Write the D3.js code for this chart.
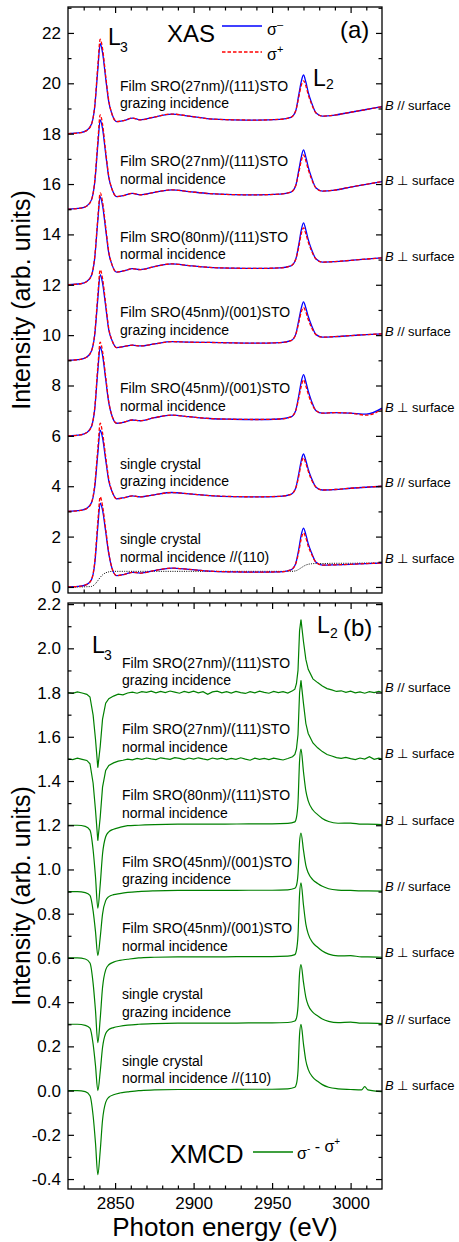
<!DOCTYPE html>
<html>
<head>
<meta charset="utf-8">
<script src="https://cdn.jsdelivr.net/npm/d3@7"></script>
<style>
body { margin: 0; background: #fff; }
svg { font-family: "Liberation Sans", Arial, sans-serif; }
</style>
</head>
<body>
<svg id="chart" width="459" height="1242"></svg>
<script>
/* global d3 */

// ---- data: XAS panel (a) ----
var xasEnergy = [2820, 2828, 2832, 2835, 2837, 2839, 2840.5, 2842, 2844, 2846, 2848, 2851, 2856, 2861, 2866, 2875, 2886, 2897, 2910, 2925, 2940, 2955, 2962, 2965, 2967, 2968.5, 2970, 2971.5, 2973, 2975, 2978, 2982, 2990, 3000, 3010, 3020]

var sigmaMinus = [
  [18.00, 18.04, 18.13, 18.38, 19.05, 20.55, 21.57, 21.22, 20.2, 19.25, 18.78, 18.48, 18.53, 18.62, 18.55, 18.66, 18.78, 18.7, 18.59, 18.55, 18.54, 18.57, 18.65, 18.9, 19.55, 20.05, 20.33, 20.05, 19.65, 19.25, 18.82, 18.7, 18.74, 18.85, 18.96, 19.07],
  [15.00, 15.04, 15.13, 15.38, 16.05, 17.55, 18.55, 18.2, 17.2, 16.25, 15.8, 15.5, 15.55, 15.63, 15.57, 15.67, 15.77, 15.7, 15.62, 15.58, 15.57, 15.6, 15.68, 15.93, 16.55, 17.05, 17.36, 17.07, 16.68, 16.28, 15.84, 15.72, 15.76, 15.88, 15.99, 16.1],
  [12.00, 12.04, 12.13, 12.38, 13.05, 14.55, 15.5, 15.15, 14.2, 13.25, 12.8, 12.5, 12.56, 12.64, 12.6, 12.72, 12.83, 12.76, 12.69, 12.66, 12.65, 12.67, 12.75, 13.0, 13.6, 14.15, 14.46, 14.18, 13.8, 13.42, 13.02, 12.9, 12.92, 12.97, 13.02, 13.07],
  [9.00, 9.04, 9.13, 9.38, 10.0, 11.45, 12.4, 12.07, 11.15, 10.2, 9.8, 9.5, 9.55, 9.6, 9.57, 9.65, 9.74, 9.72, 9.71, 9.69, 9.68, 9.7, 9.78, 10.02, 10.6, 11.05, 11.32, 11.08, 10.75, 10.4, 10.02, 9.92, 9.94, 9.98, 10.02, 10.05],
  [6.00, 6.04, 6.13, 6.38, 7.05, 8.6, 9.53, 9.2, 8.25, 7.3, 6.8, 6.5, 6.55, 6.63, 6.6, 6.72, 6.82, 6.76, 6.69, 6.66, 6.65, 6.67, 6.75, 7.0, 7.6, 8.12, 8.43, 8.15, 7.78, 7.4, 7.0, 6.9, 6.92, 6.9, 6.86, 7.1],
  [3.00, 3.04, 3.12, 3.35, 3.95, 5.3, 6.23, 5.92, 5.05, 4.2, 3.8, 3.5, 3.55, 3.62, 3.58, 3.66, 3.75, 3.7, 3.63, 3.59, 3.58, 3.6, 3.68, 3.92, 4.5, 5.0, 5.28, 5.02, 4.68, 4.33, 3.96, 3.85, 3.87, 3.92, 3.96, 4.0],
  [0.00, 0.03, 0.1, 0.3, 0.9, 2.4, 3.33, 3.05, 2.2, 1.3, 0.75, 0.45, 0.5, 0.58, 0.55, 0.65, 0.75, 0.7, 0.63, 0.6, 0.59, 0.6, 0.68, 0.92, 1.5, 2.05, 2.34, 2.08, 1.72, 1.38, 0.98, 0.87, 0.88, 0.9, 0.93, 0.95]
]

var sigmaPlus = [
  [18.00, 18.04, 18.13, 18.38, 19.1, 20.7, 21.75, 21.38, 20.3, 19.3, 18.78, 18.48, 18.53, 18.62, 18.55, 18.66, 18.78, 18.7, 18.59, 18.55, 18.54, 18.57, 18.65, 18.9, 19.45, 19.9, 20.1, 19.9, 19.55, 19.2, 18.82, 18.7, 18.74, 18.85, 18.96, 19.07],
  [15.00, 15.04, 15.13, 15.38, 16.1, 17.7, 18.75, 18.38, 17.3, 16.3, 15.8, 15.5, 15.55, 15.63, 15.57, 15.67, 15.77, 15.7, 15.62, 15.58, 15.57, 15.6, 15.68, 15.93, 16.45, 16.9, 17.16, 16.92, 16.58, 16.22, 15.84, 15.72, 15.76, 15.88, 15.99, 16.1],
  [12.00, 12.04, 12.13, 12.38, 13.1, 14.65, 15.65, 15.3, 14.3, 13.3, 12.8, 12.5, 12.56, 12.64, 12.6, 12.72, 12.83, 12.76, 12.69, 12.66, 12.65, 12.67, 12.75, 13.0, 13.5, 14.0, 14.26, 14.02, 13.7, 13.36, 13.02, 12.9, 12.92, 12.97, 13.02, 13.07],
  [9.00, 9.04, 9.13, 9.38, 10.05, 11.6, 12.6, 12.25, 11.25, 10.25, 9.8, 9.5, 9.55, 9.6, 9.57, 9.65, 9.74, 9.72, 9.71, 9.69, 9.68, 9.7, 9.78, 10.02, 10.5, 10.9, 11.1, 10.92, 10.62, 10.32, 10.02, 9.92, 9.94, 9.98, 10.02, 10.05],
  [6.00, 6.04, 6.13, 6.38, 7.1, 8.75, 9.72, 9.36, 8.35, 7.35, 6.8, 6.5, 6.55, 6.63, 6.6, 6.72, 6.82, 6.76, 6.69, 6.66, 6.65, 6.67, 6.75, 7.0, 7.5, 7.95, 8.23, 7.98, 7.66, 7.32, 7.0, 6.9, 6.92, 6.9, 6.82, 7.05],
  [3.00, 3.04, 3.12, 3.35, 4.05, 5.5, 6.5, 6.12, 5.18, 4.28, 3.8, 3.5, 3.55, 3.62, 3.58, 3.66, 3.75, 3.7, 3.63, 3.59, 3.58, 3.6, 3.68, 3.92, 4.4, 4.88, 5.13, 4.9, 4.6, 4.27, 3.96, 3.85, 3.87, 3.92, 3.96, 4.0],
  [0.00, 0.03, 0.1, 0.3, 0.98, 2.6, 3.58, 3.22, 2.3, 1.35, 0.75, 0.45, 0.5, 0.58, 0.55, 0.65, 0.75, 0.7, 0.63, 0.6, 0.59, 0.6, 0.68, 0.92, 1.4, 1.9, 2.15, 1.95, 1.62, 1.32, 0.98, 0.87, 0.88, 0.9, 0.93, 0.95]
]

// edge-step background under the single crystal spectrum (dotted)
var edgeStep = [0, 0, 0.01, 0.02, 0.1, 0.25, 0.38, 0.48, 0.56, 0.6,
  0.62, 0.62, 0.62, 0.62, 0.62, 0.62, 0.62, 0.62, 0.62, 0.62, 0.62, 0.62, 0.62,
  0.64, 0.7, 0.76, 0.82, 0.87, 0.9, 0.92, 0.93, 0.93, 0.94, 0.94, 0.95, 0.95]

var xasOffsets = [18, 15, 12, 9, 6, 3, 0]

// ---- data: XMCD panel (b) ----
// first two film spectra are noisy, read point by point
var xmcdNoisy = [
  [[2820, 1.800], [2823, 1.796], [2826, 1.803], [2829, 1.798], [2832, 1.792], [2834, 1.78], [2836, 1.698], [2837.5, 1.59], [2839, 1.46], [2840.5, 1.555], [2842, 1.68], [2844, 1.752], [2846, 1.772], [2849, 1.784], [2852, 1.793], [2855, 1.79], [2858, 1.798], [2861, 1.802], [2864, 1.797], [2867, 1.804], [2870, 1.801], [2873, 1.806], [2876, 1.799], [2879, 1.805], [2882, 1.8], [2885, 1.807], [2888, 1.802], [2891, 1.797], [2894, 1.805], [2897, 1.8], [2900, 1.806], [2903, 1.799], [2906, 1.804], [2909, 1.792], [2912, 1.803], [2915, 1.806], [2918, 1.799], [2921, 1.804], [2924, 1.798], [2927, 1.805], [2930, 1.8], [2933, 1.796], [2936, 1.804], [2939, 1.799], [2942, 1.806], [2945, 1.801], [2948, 1.797], [2951, 1.805], [2954, 1.8], [2957, 1.804], [2960, 1.798], [2963, 1.808], [2964.5, 1.815], [2965.5, 1.84], [2966.5, 1.9], [2967.5, 2.08], [2968.4, 2.13], [2970, 2.03], [2971.5, 1.95], [2973, 1.905], [2976, 1.862], [2979, 1.845], [2982, 1.83], [2985, 1.818], [2988, 1.812], [2991, 1.805], [2994, 1.808], [2997, 1.801], [3000, 1.806], [3003, 1.799], [3006, 1.803], [3009, 1.797], [3012, 1.804], [3015, 1.8], [3018, 1.805], [3020, 1.801]],
  [[2820, 1.5], [2823, 1.497], [2826, 1.503], [2829, 1.498], [2832, 1.493], [2834, 1.478], [2836, 1.39], [2837.5, 1.27], [2839, 1.13], [2840.5, 1.235], [2842, 1.372], [2844, 1.448], [2846, 1.47], [2849, 1.482], [2852, 1.49], [2855, 1.494], [2858, 1.499], [2861, 1.496], [2864, 1.502], [2867, 1.498], [2870, 1.504], [2873, 1.5], [2876, 1.497], [2879, 1.505], [2882, 1.501], [2885, 1.498], [2888, 1.506], [2891, 1.502], [2894, 1.497], [2897, 1.504], [2900, 1.499], [2903, 1.505], [2906, 1.5], [2909, 1.496], [2912, 1.504], [2915, 1.499], [2918, 1.503], [2921, 1.497], [2924, 1.502], [2927, 1.498], [2930, 1.505], [2933, 1.499], [2936, 1.494], [2939, 1.503], [2942, 1.498], [2945, 1.502], [2948, 1.497], [2951, 1.503], [2954, 1.499], [2957, 1.495], [2960, 1.502], [2963, 1.51], [2964.5, 1.52], [2965.5, 1.545], [2966.5, 1.61], [2967.5, 1.8], [2968.4, 1.855], [2970, 1.75], [2971.5, 1.66], [2973, 1.615], [2976, 1.572], [2979, 1.55], [2982, 1.533], [2985, 1.52], [2988, 1.513], [2991, 1.506], [2994, 1.502], [2997, 1.507], [3000, 1.501], [3003, 1.497], [3006, 1.504], [3009, 1.499], [3012, 1.51], [3015, 1.498], [3018, 1.503], [3020, 1.5]]
]

var xmcdEnergy = [2820, 2826, 2831, 2834, 2836, 2837.5, 2839, 2840.5, 2842, 2844, 2846, 2849, 2853, 2858, 2865, 2875, 2890, 2905, 2920, 2935, 2950, 2960, 2964.5, 2965.5, 2966.5, 2967.5, 2968.4, 2970, 2971.5, 2973, 2976, 2979, 2982, 2986, 2992, 3000, 3007, 3009, 3011, 3020]

var xmcdSmooth = [
  [1.2, 1.2, 1.195, 1.178, 1.088, 0.968, 0.825, 0.93, 1.07, 1.148, 1.17, 1.182, 1.19, 1.198, 1.2, 1.203, 1.205, 1.205, 1.205, 1.206, 1.206, 1.208, 1.215, 1.234, 1.303, 1.492, 1.544, 1.441, 1.355, 1.31, 1.269, 1.248, 1.231, 1.217, 1.209, 1.21, 1.205, 1.205, 1.205, 1.203],
  [0.9, 0.9, 0.895, 0.883, 0.813, 0.72, 0.61, 0.691, 0.798, 0.859, 0.877, 0.886, 0.891, 0.896, 0.9, 0.903, 0.905, 0.905, 0.905, 0.906, 0.906, 0.908, 0.915, 0.927, 0.98, 1.125, 1.165, 1.086, 1.019, 0.985, 0.953, 0.937, 0.924, 0.913, 0.907, 0.905, 0.903, 0.903, 0.903, 0.902],
  [0.6, 0.6, 0.595, 0.577, 0.485, 0.363, 0.217, 0.324, 0.466, 0.546, 0.569, 0.581, 0.589, 0.594, 0.6, 0.603, 0.605, 0.605, 0.605, 0.606, 0.606, 0.608, 0.615, 0.634, 0.702, 0.889, 0.94, 0.838, 0.753, 0.709, 0.668, 0.648, 0.631, 0.617, 0.609, 0.61, 0.605, 0.605, 0.605, 0.603],
  [0.3, 0.3, 0.295, 0.282, 0.21, 0.114, 0.0, 0.084, 0.195, 0.258, 0.276, 0.285, 0.291, 0.296, 0.3, 0.303, 0.305, 0.305, 0.305, 0.306, 0.306, 0.308, 0.315, 0.327, 0.381, 0.53, 0.57, 0.489, 0.422, 0.386, 0.354, 0.338, 0.324, 0.313, 0.307, 0.31, 0.305, 0.305, 0.305, 0.303],
  [0, 0, -0.005, -0.023, -0.114, -0.236, -0.38, -0.274, -0.133, -0.053, -0.03, -0.019, -0.011, -0.006, 0, 0.003, 0.005, 0.005, 0.005, 0.006, 0.006, 0.008, 0.015, 0.03, 0.09, 0.255, 0.3, 0.21, 0.135, 0.096, 0.06, 0.042, 0.027, 0.015, 0.008, 0.005, 0.003, 0.018, 0.003, -0.005]
]

var xmcdOffsets = [1.8, 1.5, 1.2, 0.9, 0.6, 0.3, 0]

// ---- labels ----
var sampleLabels = [
  ['Film SRO(27nm)/(111)STO', 'grazing incidence'],
  ['Film SRO(27nm)/(111)STO', 'normal incidence'],
  ['Film SRO(80nm)/(111)STO', 'normal incidence'],
  ['Film SRO(45nm)/(001)STO', 'grazing incidence'],
  ['Film SRO(45nm)/(001)STO', 'normal incidence'],
  ['single crystal', 'grazing incidence'],
  ['single crystal', 'normal incidence //(110)']
]
var fieldLabels = ['//', '\u22a5', '\u22a5', '//', '\u22a5', '//', '\u22a5']

// ---- ticks ----
var xMajor = [2850, 2900, 2950, 3000]
var xMinor = [2830, 2840, 2860, 2870, 2880, 2890, 2910, 2920, 2930, 2940, 2960, 2970, 2980, 2990, 3010]
var yaMajor = [0, 2, 4, 6, 8, 10, 12, 14, 16, 18, 20, 22]
var yaMinor = [1, 3, 5, 7, 9, 11, 13, 15, 17, 19, 21, 23]
var ybMajor = [-0.4, -0.2, 0, 0.2, 0.4, 0.6, 0.8, 1.0, 1.2, 1.4, 1.6, 1.8, 2.0, 2.2]
var ybMinor = [-0.3, -0.1, 0.1, 0.3, 0.5, 0.7, 0.9, 1.1, 1.3, 1.5, 1.7, 1.9, 2.1]

var left = 68
var right = 382
var pa = { top: 7, bottom: 593 }
var pb = { top: 603, bottom: 1189 }

var svg = d3.select('#chart')

var x = d3.scaleLinear().domain([2820, 3020]).range([left, right])
var ya = d3.scaleLinear().domain([-0.24, 23.03]).range([pa.bottom, pa.top])
var yb = d3.scaleLinear().domain([-0.445, 2.205]).range([pb.bottom, pb.top])

function clip (id, p) {
  svg.append('clipPath').attr('id', id)
    .append('rect')
    .attr('x', left).attr('y', p.top)
    .attr('width', right - left).attr('height', p.bottom - p.top)
}
clip('clipA', pa)
clip('clipB', pb)

function axisG (axis, tx, ty) {
  var g = svg.append('g')
      .attr('transform', 'translate(' + tx + ',' + ty + ')')
      .call(axis)
  g.select('.domain').remove()
  g.selectAll('line').attr('stroke', '#000').attr('stroke-width', 1.2)
  g.selectAll('text')
      .attr('fill', '#000')
      .style('font-size', '17px')
      .style('font-family', '"Liberation Sans", Arial, sans-serif')
  return g
}

function noLabel () { return '' }

function frame (y, p, yMajor, yMinor, yFmt, xLabels) {
  axisG(d3.axisLeft(y).tickValues(yMajor).tickSize(-6).tickPadding(7).tickFormat(yFmt), left, 0)
  axisG(d3.axisLeft(y).tickValues(yMinor).tickSize(-3.5).tickFormat(noLabel), left, 0)
  axisG(d3.axisRight(y).tickValues(yMajor).tickSize(-6).tickFormat(noLabel), right, 0)
  axisG(d3.axisRight(y).tickValues(yMinor).tickSize(-3.5).tickFormat(noLabel), right, 0)
  axisG(d3.axisTop(x).tickValues(xMajor).tickSize(-6).tickFormat(noLabel), 0, p.top)
  axisG(d3.axisTop(x).tickValues(xMinor).tickSize(-3.5).tickFormat(noLabel), 0, p.top)
  axisG(d3.axisBottom(x).tickValues(xMajor).tickSize(-6).tickPadding(8)
    .tickFormat(xLabels ? d3.format('d') : noLabel), 0, p.bottom)
  axisG(d3.axisBottom(x).tickValues(xMinor).tickSize(-3.5).tickFormat(noLabel), 0, p.bottom)
  svg.append('rect')
      .attr('x', left).attr('y', p.top)
      .attr('width', right - left).attr('height', p.bottom - p.top)
      .attr('fill', 'none').attr('stroke', '#000').attr('stroke-width', 1.3)
}

// ---- panel (a) ----
var lineA = d3.line()
    .x(d => x(d[0]))
    .y(d => ya(d[1]))
    .curve(d3.curveMonotoneX)

var gA = svg.append('g').attr('clip-path', 'url(#clipA)')

gA.append('path')
    .attr('d', lineA(xasEnergy.map((e, i) => [e, edgeStep[i]])))
    .attr('fill', 'none').attr('stroke', '#000')
    .attr('stroke-width', 1).attr('stroke-dasharray', '1,1.3')

sigmaMinus.forEach(function (s, k) {
  gA.append('path')
      .attr('d', lineA(xasEnergy.map((e, i) => [e, s[i]])))
      .attr('fill', 'none').attr('stroke', '#0000ff').attr('stroke-width', 1.3)
  gA.append('path')
      .attr('d', lineA(xasEnergy.map((e, i) => [e, sigmaPlus[k][i]])))
      .attr('fill', 'none').attr('stroke', '#ff0000').attr('stroke-width', 1.3)
      .attr('stroke-dasharray', '3.5,2')
})

frame(ya, pa, yaMajor, yaMinor, d3.format('d'), false)

// ---- panel (b) ----
var lineB = d3.line()
    .x(d => x(d[0]))
    .y(d => yb(d[1]))

var gB = svg.append('g').attr('clip-path', 'url(#clipB)')
xmcdNoisy.forEach(function (s) {
  gB.append('path').attr('d', lineB(s))
      .attr('fill', 'none').attr('stroke', '#008000').attr('stroke-width', 1.2)
})
lineB.curve(d3.curveMonotoneX)
xmcdSmooth.forEach(function (s) {
  gB.append('path').attr('d', lineB(xmcdEnergy.map((e, i) => [e, s[i]])))
      .attr('fill', 'none').attr('stroke', '#008000').attr('stroke-width', 1.2)
})

frame(yb, pb, ybMajor, ybMinor, d => d.toFixed(1), true)

// ---- sample and field labels ----
var txt = svg.append('g').attr('fill', '#000')

function sampleText (tx, ty, lines) {
  var t = txt.append('text').attr('x', tx).attr('y', ty)
      .attr('dominant-baseline', 'central').style('font-size', '14px')
  lines.forEach(function (l, i) {
    t.append('tspan').attr('x', tx).attr('dy', i === 0 ? 0 : 17.5).text(l)
  })
}

function fieldText (ty, sym) {
  var t = txt.append('text').attr('x', 385).attr('y', ty)
      .attr('dominant-baseline', 'central').style('font-size', '13px')
  t.append('tspan').style('font-style', 'italic').text('B')
  t.append('tspan').text(' ' + sym + ' surface')
}

sampleLabels.forEach(function (lines, k) {
  sampleText(120, ya(xasOffsets[k] + 1.9), lines)
  fieldText(ya(xasOffsets[k] + 1.15), fieldLabels[k])
  sampleText(122, yb(xmcdOffsets[k] + 0.135), lines)
  fieldText(yb(xmcdOffsets[k] + 0.025), fieldLabels[k])
})

// ---- edge labels, panel tags, legends ----
function edge (tx, ty, sub, sx, sy) {
  svg.append('text').attr('x', tx).attr('y', ty).style('font-size', '23px').text('L')
  svg.append('text').attr('x', sx).attr('y', sy).style('font-size', '14px').text(sub)
}
edge(108, 45, '3', 120, 52)
edge(313, 86, '2', 326, 89)
edge(92, 653, '3', 104, 660)
edge(317, 633, '2', 330, 638)

svg.append('text').attr('x', 340).attr('y', 38).style('font-size', '24px').text('(a)')
svg.append('text').attr('x', 343).attr('y', 636).style('font-size', '24px').text('(b)')

function sigma (t, sup, size) {
  t.append('tspan').text('\u03c3')
  t.append('tspan').attr('dy', -7).style('font-size', size + 'px').text(sup)
  t.append('tspan').attr('dy', 7).text('')
}

svg.append('text').attr('x', 167).attr('y', 42).style('font-size', '24px').text('XAS')
svg.append('line').attr('x1', 222).attr('x2', 262).attr('y1', 26).attr('y2', 26)
    .attr('stroke', '#0000ff').attr('stroke-width', 1.3)
sigma(svg.append('text').attr('x', 267).attr('y', 35).style('font-size', '16px'), '\u2013', 11)
svg.append('line').attr('x1', 222).attr('x2', 262).attr('y1', 52).attr('y2', 52)
    .attr('stroke', '#ff0000').attr('stroke-width', 1.3).attr('stroke-dasharray', '3.5,2')
sigma(svg.append('text').attr('x', 267).attr('y', 60).style('font-size', '16px'), '+', 11)

svg.append('text').attr('x', 170).attr('y', 1163).style('font-size', '25px').text('XMCD')
svg.append('line').attr('x1', 253).attr('x2', 293).attr('y1', 1152).attr('y2', 1152)
    .attr('stroke', '#008000').attr('stroke-width', 1.5)
var lt = svg.append('text').attr('x', 297).attr('y', 1159).style('font-size', '16px')
sigma(lt, '-', 10)
lt.append('tspan').text(' - ')
sigma(lt, '+', 10)

// ---- axis titles ----
svg.append('text')
    .attr('transform', 'translate(30,' + ((pa.top + pa.bottom) / 2) + ') rotate(-90)')
    .attr('text-anchor', 'middle').style('font-size', '25px')
    .text('Intensity (arb. units)')
svg.append('text')
    .attr('transform', 'translate(30,' + ((pb.top + pb.bottom) / 2) + ') rotate(-90)')
    .attr('text-anchor', 'middle').style('font-size', '25px')
    .text('Intensity (arb. units)')
svg.append('text')
    .attr('x', (left + right) / 2).attr('y', 1236)
    .attr('text-anchor', 'middle').style('font-size', '26px')
    .text('Photon energy (eV)')
</script>
</body>
</html>
